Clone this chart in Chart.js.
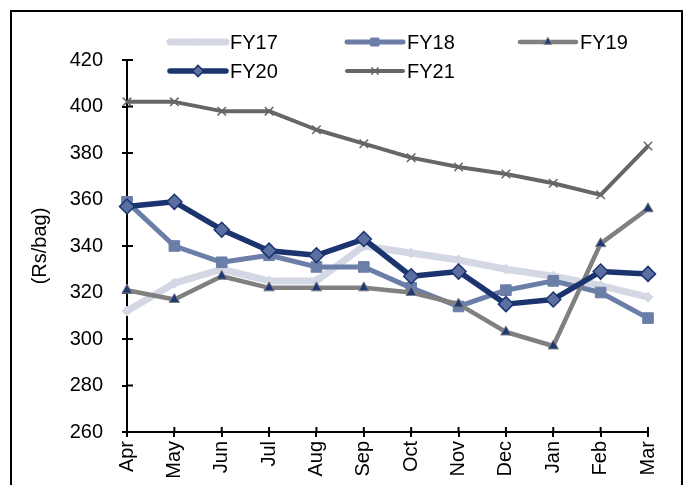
<!DOCTYPE html>
<html>
<head>
<meta charset="utf-8">
<script src="https://cdn.jsdelivr.net/npm/chart.js@4.4.0/dist/chart.umd.min.js"></script>
<style>
  body { margin: 0; background: #fff; }
  #wrap { position: relative; width: 689px; height: 485px; overflow: hidden; }
  #frame { position: absolute; left: 10px; top: 10px; width: 669px; height: 520px; border: 2px solid #000; }
  canvas { position: absolute; left: 0; top: 0; }
</style>
</head>
<body>
<div id="wrap">
  <div id="frame"></div>
  <canvas id="myChart" width="689" height="485"></canvas>
</div>
<script>
var months = ["Apr","May","Jun","Jul","Aug","Sep","Oct","Nov","Dec","Jan","Feb","Mar"]
var fy17 = [312,324,330,325,325,340,337,334,330,327,323,318]
var fy18 = [359,340,333,336,331,331,322,314,321,325,320,309]
var fy19 = [321,317,327,322,322,322,320,315,303,297,341,356]
var fy20 = [357,359,347,338,336,343,327,329,315,317,329,328]
var fy21 = [402,402,398,398,390,384,378,374,371,367,362,383]

var font = "'Liberation Sans', Arial, sans-serif"

// legend drawn by hand: 3 columns, 2 rows
var legendCols = [170, 347, 520]
var legendRows = [42, 71]

var legendPlugin = {
  id: 'customLegend',
  afterDraw(chart) {
    var ctx = chart.ctx
    chart.data.datasets.forEach((ds, i) => {
      var x = legendCols[i % 3]
      var y = legendRows[Math.floor(i / 3)]
      ctx.save()
      ctx.strokeStyle = ds.borderColor
      ctx.lineWidth = ds.borderWidth
      ctx.lineCap = 'round'
      ctx.beginPath()
      ctx.moveTo(x, y)
      ctx.lineTo(x + 56, y)
      ctx.stroke()
      if (Chart.helpers && Chart.helpers.drawPoint) {
        ctx.fillStyle = ds.pointBackgroundColor
        ctx.strokeStyle = ds.pointBorderColor
        ctx.lineWidth = ds.pointBorderWidth
        Chart.helpers.drawPoint(ctx, {pointStyle: ds.pointStyle, radius: ds.pointRadius * 0.75, rotation: 0, borderWidth: ds.pointBorderWidth}, x + 28, y)
      }
      ctx.fillStyle = '#000'
      ctx.font = '20px ' + font
      ctx.textBaseline = 'middle'
      ctx.fillText(ds.label, x + 60, y + 1)
      ctx.restore()
    })
  }
}

// ticks crossing the axis lines
var innerTicks = {
  id: 'innerTicks',
  beforeDatasetsDraw(chart) {
    var ctx = chart.ctx, area = chart.chartArea
    var x = chart.scales.x, y = chart.scales.y
    ctx.save()
    ctx.strokeStyle = '#000'
    ctx.lineWidth = 2
    ctx.beginPath()
    y.ticks.forEach((t, i) => {
      var py = y.getPixelForTick(i)
      ctx.moveTo(area.left, py)
      ctx.lineTo(area.left + 6, py)
    })
    x.ticks.forEach((t, i) => {
      var px = x.getPixelForTick(i)
      ctx.moveTo(px, area.bottom)
      ctx.lineTo(px, area.bottom - 5)
    })
    ctx.stroke()
    ctx.restore()
  }
}

var chartField = document.querySelector("#myChart").getContext("2d")

var myChart = new Chart(chartField, {
  type: "line",
  data: {
    labels: months,
    datasets: [
      { label: "FY17", data: fy17, order: 5, borderColor: "#D3D8E4", borderWidth: 7,
        pointStyle: "rectRot", pointRadius: 5, pointBackgroundColor: "#D3D8E4", pointBorderColor: "#D3D8E4", pointBorderWidth: 1 },
      { label: "FY18", data: fy18, order: 4, borderColor: "#6A7EA8", borderWidth: 5,
        pointStyle: "rect", pointRadius: 7.5, pointBackgroundColor: "#6A7EA8", pointBorderColor: "#6A7EA8", pointBorderWidth: 1 },
      { label: "FY19", data: fy19, order: 3, borderColor: "#808080", borderWidth: 4.5,
        pointStyle: "triangle", pointRadius: 6, pointBackgroundColor: "#1F3A73", pointBorderColor: "#808080", pointBorderWidth: 1 },
      { label: "FY20", data: fy20, order: 2, borderColor: "#1B346F", borderWidth: 5.5,
        pointStyle: "rectRot", pointRadius: 7.5, pointBackgroundColor: "#5B70A1", pointBorderColor: "#1B346F", pointBorderWidth: 1.5 },
      { label: "FY21", data: fy21, order: 1, borderColor: "#666666", borderWidth: 4,
        pointStyle: "crossRot", pointRadius: 6, pointBackgroundColor: "#666666", pointBorderColor: "#666666", pointBorderWidth: 1.5 }
    ]
  },
  options: {
    responsive: false,
    animation: false,
    layout: { padding: { top: 60, right: 41, left: 0, bottom: 0 } },
    plugins: { legend: { display: false }, tooltip: { enabled: false } },
    elements: { line: { tension: 0, borderJoinStyle: 'round' } },
    scales: {
      x: {
        offset: false,
        afterFit: s => { s.height = 53 },
        grid: { drawOnChartArea: false, drawTicks: true, tickLength: 5, color: "#000", lineWidth: 2 },
        border: { color: "#000", width: 2 },
        ticks: { color: "#000", font: { family: font, size: 20 }, minRotation: 90, maxRotation: 90, padding: 4, autoSkip: false }
      },
      y: {
        min: 260,
        max: 420,
        afterFit: s => { s.width = 127 },
        grid: { drawOnChartArea: false, drawTicks: true, tickLength: 5, color: "#000", lineWidth: 2 },
        border: { color: "#000", width: 2 },
        ticks: { stepSize: 20, color: "#000", font: { family: font, size: 20 }, padding: 19 },
        title: { display: true, text: "(Rs/bag)", color: "#000", font: { family: font, size: 20 }, padding: { top: 28, bottom: 0 } }
      }
    }
  },
  plugins: [innerTicks, legendPlugin]
})
</script>
</body>
</html>
